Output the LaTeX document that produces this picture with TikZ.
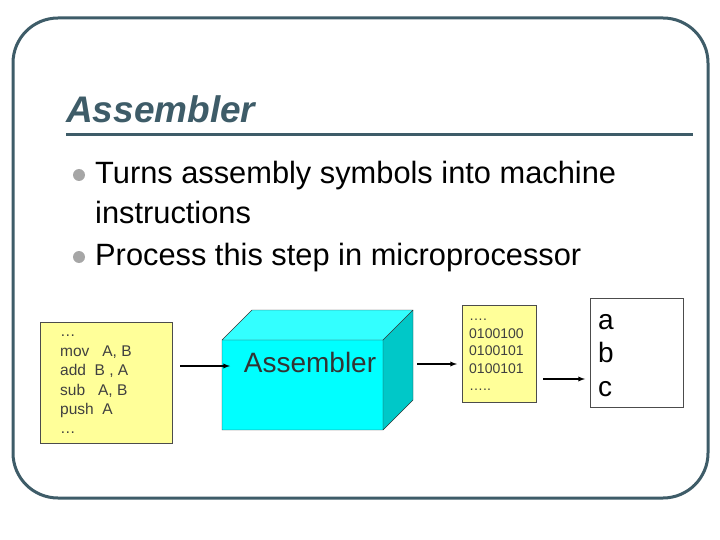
\documentclass[tikz,border=0pt]{standalone}
\usepackage{fontspec}
\setmainfont{Liberation Sans}
\begin{document}
\begin{tikzpicture}[x=1pt,y=-1pt,
  flow/.style={-latex, line width=1.3pt},
  body/.style={font=\fontsize{30.8}{34}\selectfont, anchor=west}]
 \useasboundingbox (0,0) rectangle (720,540);
 \definecolor{framecol}{HTML}{3E5C68}
 \definecolor{memocol}{HTML}{FFFF99}
 \definecolor{cubefront}{HTML}{00FFFF}
 \definecolor{cubetop}{HTML}{33FFFF}
 \definecolor{cubeside}{HTML}{00C8C8}
 \draw [framecol, line width=3pt, rounded corners=45pt] (13,18) rectangle (708,498);
 \node [anchor=west, inner sep=0pt, font=\fontsize{37}{40}\selectfont\bfseries\itshape, text=framecol] (title) at (66,109) {Assembler};
 \draw [framecol, line width=3pt] (66,135) -- (693,135);
 \fill [gray!70] (79,175) circle (6);
 \fill [gray!70] (79,257) circle (6);
 \node [body, inner sep=0pt] (b1) at (95,176) {Turns assembly symbols into machine};
 \node [body, inner sep=0pt] (b1b) at (95,212) {instructions};
 \node [body, inner sep=0pt] (b2) at (95,258) {Process this step in microprocessor};
 % source code
 \fill [memocol] (40,322) rectangle (172,443);
 \draw [black!70] (40,322) rectangle (172,443);
 \node [anchor=north west, align=left, inner sep=0pt, font=\fontsize{15.5}{19.4}\selectfont, text=black!75] (src) at (60,335)
   {\dots\\ mov\ \ \ A, B\\ add\ \ B , A\\ sub\ \ \ A, B\\ push\ \ A\\ \dots};
 % cube
 \fill [cubefront] (222,340) rectangle (383,430);
 \fill [cubetop] (222,340) -- (252,310) -- (413,310) -- (383,340) -- cycle;
 \fill [cubeside] (383,340) -- (413,310) -- (413,400) -- (383,430) -- cycle;
 \draw [black!80] (222,340) rectangle (383,430) (222,340) -- (252,310) -- (413,310) -- (383,340)
   (413,310) -- (413,400) -- (383,430);
 \node [font=\fontsize{28}{32}\selectfont, text=black!80] (asm) at (310,362) {Assembler};
 % binary
 \fill [memocol] (462,305) rectangle (536,402);
 \draw [black!70] (462,305) rectangle (536,402);
 \node [anchor=north west, align=left, inner sep=0pt, font=\fontsize{14}{17.5}\selectfont, text=black!75] (bin) at (469,319)
   {\dots.\\ 0100100\\ 0100101\\ 0100101\\ \dots..};
 % output
 \draw [black!70] (590,298) rectangle (683,407);
 \node [anchor=north west, align=left, inner sep=0pt, font=\fontsize{28}{33.5}\selectfont] (out) at (598,314) {a\\ b\\ c};
 \coordinate (a1) at (180,366); \coordinate (a1e) at (230,366);
 \coordinate (a2) at (417,364); \coordinate (a2e) at (457,364);
 \coordinate (a3) at (543,379); \coordinate (a3e) at (585,379);
 \draw [flow] (a1) -- (a1e);
 \draw [flow] (a2) -- (a2e);
 \draw [flow] (a3) -- (a3e);
\end{tikzpicture}
\end{document}
